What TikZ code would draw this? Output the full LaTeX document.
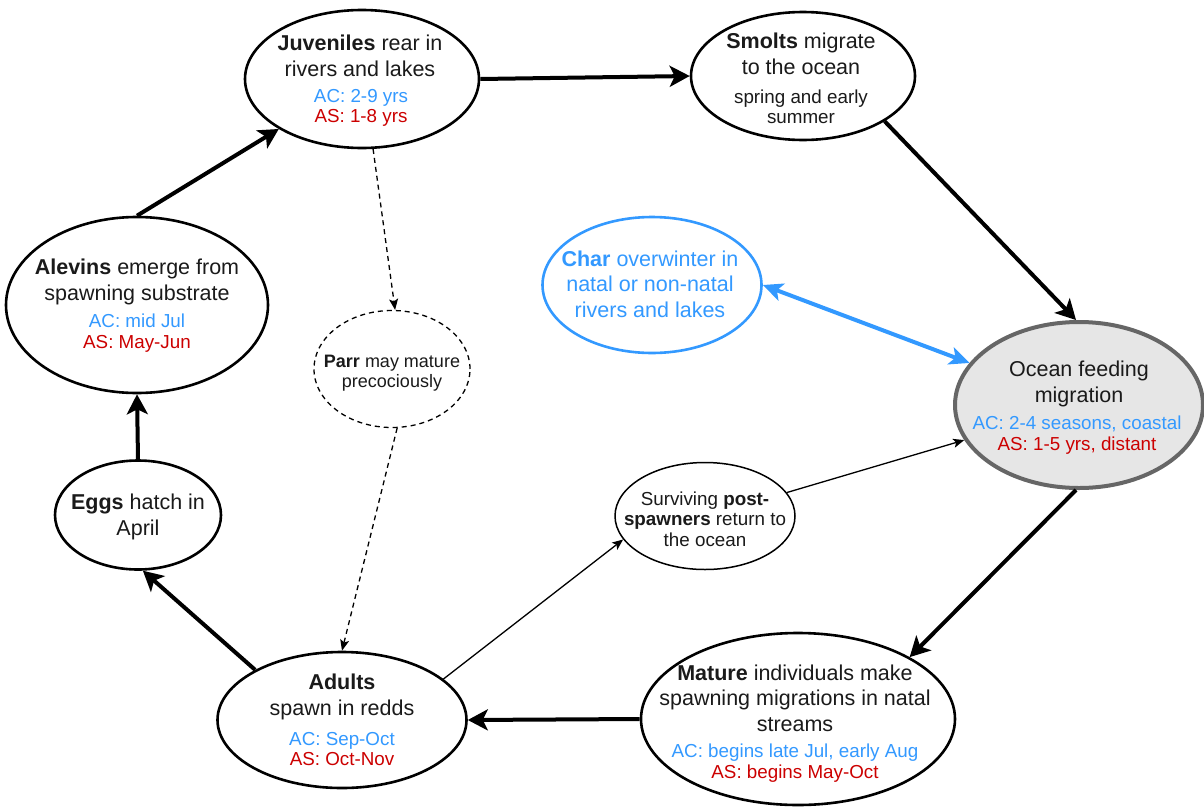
\documentclass[tikz,border=0pt]{standalone}
\usepackage{fontspec}
\setmainfont{Liberation Sans}
\usetikzlibrary{arrows.meta,shapes.geometric}
\definecolor{acblue}{RGB}{51,153,255}
\definecolor{asred}{RGB}{204,0,0}
\definecolor{oceanfill}{RGB}{230,230,230}
\definecolor{oceanedge}{RGB}{102,102,102}
\definecolor{txt}{RGB}{26,26,26}
\begin{document}
\begin{tikzpicture}[x=1pt,y=-1pt,
  stage/.style={ellipse, draw=black, line width=2.6pt, inner sep=0pt, fill=white},
  maintext/.style={align=center, text=txt, font=\fontsize{21.5}{25.5}\selectfont, inner sep=0pt},
  subtext/.style={align=center, text=txt, font=\fontsize{18.8}{20.5}\selectfont, inner sep=0pt},
  bigarrow/.style={draw=black, line width=4pt, -{Stealth[length=20pt,width=21pt,inset=5pt]}},
  thinarrow/.style={draw=black, line width=1.3pt, -{Stealth[length=11pt,width=9pt,inset=2.5pt]}},
  dasharrow/.style={draw=black, line width=1.3pt, dash pattern=on 5pt off 4pt, -{Stealth[length=11pt,width=9pt,inset=2.5pt]}},
  bluearrow/.style={draw=acblue, line width=4pt, {Stealth[length=20pt,width=18pt,inset=5pt]}-{Stealth[length=20pt,width=18pt,inset=5pt]}}
]
\useasboundingbox (0,0) rectangle (1204,806);

% stages
\node[stage, minimum width=234pt, minimum height=138pt] (juv) at (362,79) {};
\node[stage, minimum width=224pt, minimum height=128pt] (smolts) at (803,76) {};
\node[stage, draw=acblue, minimum width=219pt, minimum height=136pt] (char) at (652,285) {};
\node[stage, draw=oceanedge, fill=oceanfill, line width=4pt, minimum width=248pt, minimum height=166pt] (ocean) at (1079,405) {};
\node[stage, minimum width=262pt, minimum height=176pt] (alev) at (137,305) {};
\node[stage, line width=1.3pt, dash pattern=on 5pt off 4pt, minimum width=156pt, minimum height=117pt] (parr) at (392,369) {};
\node[stage, minimum width=166pt, minimum height=109pt] (eggs) at (138,515) {};
\node[stage, line width=1.5pt, minimum width=180pt, minimum height=107pt] (post) at (705,516) {};
\node[stage, minimum width=249pt, minimum height=136pt] (adults) at (342,720) {};
\node[stage, minimum width=314pt, minimum height=172pt] (mature) at (798,719) {};

% texts
\node[maintext] (juvA) at (360,56) {\textbf{Juveniles} rear in\\rivers and lakes};
\node[subtext] (juvB) at (361,108) {\textcolor{acblue}{AC: 2-9 yrs}\\\textcolor{asred}{AS: 1-8 yrs}};
\node[maintext] (smoltsA) at (801,54) {\textbf{Smolts} migrate\\to the ocean};
\node[subtext] (smoltsB) at (801,107) {spring and early\\summer};
\node[maintext, text=acblue] (charA) at (650,284) {\textbf{Char} overwinter in\\natal or non-natal\\rivers and lakes};
\node[maintext] (oceanA) at (1079,384) {Ocean feeding\\migration};
\node[subtext] (oceanB) at (1077,435) {\textcolor{acblue}{AC: 2-4 seasons, coastal}\\\textcolor{asred}{AS: 1-5 yrs, distant}};
\node[maintext] (alevA) at (137,282) {\textbf{Alevins} emerge from\\spawning substrate};
\node[subtext] (alevB) at (137,333) {\textcolor{acblue}{AC: mid Jul}\\\textcolor{asred}{AS: May-Jun}};
\node[subtext, font=\fontsize{18}{20}\selectfont] (parrA) at (392,373) {\textbf{Parr} may mature\\precociously};
\node[maintext] (eggsA) at (138,517) {\textbf{Eggs} hatch in\\April};
\node[subtext] (postA) at (705,519) {Surviving \textbf{post-}\\\textbf{spawners} return to\\the ocean};
\node[maintext] (adultsA) at (342,697) {\textbf{Adults}\\spawn in redds};
\node[subtext] (adultsB) at (342,749) {\textcolor{acblue}{AC: Sep-Oct}\\\textcolor{asred}{AS: Oct-Nov}};
\node[maintext] (matureA) at (795,698) {\textbf{Mature} individuals make\\spawning migrations in natal\\streams};
\node[subtext] (matureB) at (795,763) {\textcolor{acblue}{AC: begins late Jul, early Aug}\\\textcolor{asred}{AS: begins May-Oct}};

% connectors
\draw[bigarrow] (alev.north) -- (juv.211.4);
\draw[bigarrow] (juv.east) -- (smolts.west);
\draw[bigarrow] (smolts.-29.8) -- (ocean.92.8);
\draw[bigarrow] (ocean.-92.8) -- (mature.29.7);
\draw[bigarrow] (mature.west) -- (adults.east);
\draw[bigarrow] (adults.150) -- (eggs.-85);
\draw[bigarrow] (eggs.north) -- (alev.south);
\draw[thinarrow] (adults.22.8) -- (post.196);
\draw[thinarrow] (post.16.7) -- (ocean.197);
\draw[dasharrow] (juv.-81.8) -- (parr.87);
\draw[dasharrow] (parr.-85) -- (adults.north);
\draw[bluearrow] (char.east) -- (ocean.159.8);
\end{tikzpicture}
\end{document}
